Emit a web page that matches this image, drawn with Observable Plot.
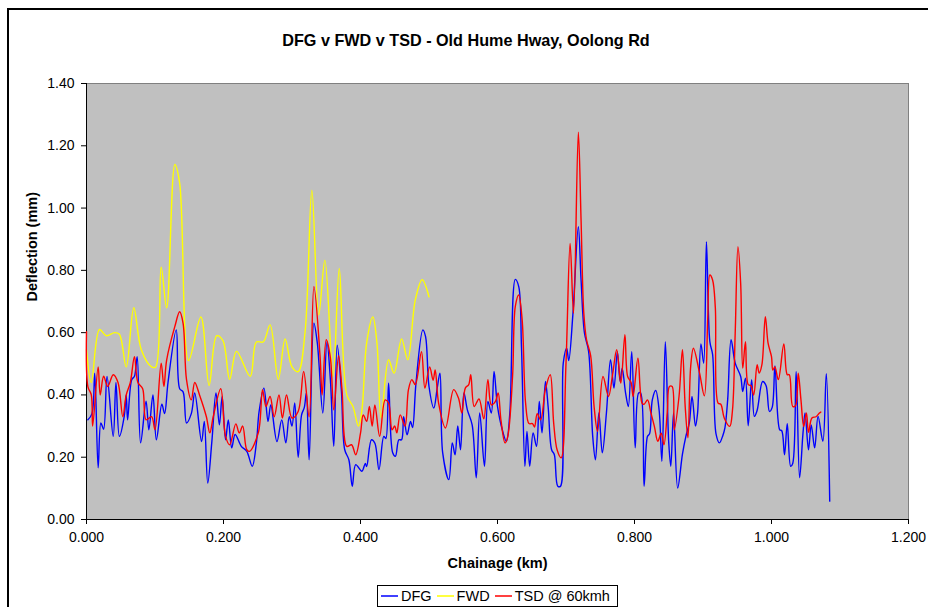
<!DOCTYPE html>
<html>
<head>
<meta charset="utf-8">
<script src="https://cdn.jsdelivr.net/npm/d3@7"></script>
<script src="https://cdn.jsdelivr.net/npm/@observablehq/plot@0.6"></script>
<style>
  html, body { margin: 0; padding: 0; background: #fff; overflow: hidden; }
  #wrap { position: relative; width: 928px; height: 607px; font-family: "Liberation Sans", Arial, sans-serif; }
  #border { position: absolute; left: 7px; top: 8px; width: 940px; height: 620px; border-top: 2px solid #000; border-left: 2px solid #000; pointer-events: none; }
  #title { position: absolute; left: 8px; width: 916px; top: 30px; text-align: center; font-weight: bold; font-size: 16.2px; line-height: 20px; color: #000; white-space: nowrap; }
  #legend { position: absolute; left: 377px; top: 585px; width: 239px; height: 20px; border: 1px solid #000; background: #fff; display: flex; align-items: center; font-size: 14.5px; line-height: 20px; color: #000; box-sizing: content-box; white-space: nowrap; }
  #legend .item { display: flex; align-items: center; margin-left: 3px; margin-right: 2px; white-space: nowrap; }
  #legend svg { margin-right: 3px; flex: none; }
  svg.plot { position: absolute; left: 0; top: 0; }
</style>
</head>
<body>
<div id="wrap">
  <div id="border"></div>
  <div id="title">DFG v FWD v TSD - Old Hume Hway, Oolong Rd</div>
  <div id="legend"></div>
</div>
<script>
// ---- Data ----
const seriesNames = ["DFG", "FWD", "TSD @ 60kmh"];
const seriesColors = ["#0000ff", "#ffff00", "#ff0000"];
const yTicks = [0, 0.2, 0.4, 0.6, 0.8, 1.0, 1.2, 1.4];
const xTicks = [0, 0.2, 0.4, 0.6, 0.8, 1.0, 1.2];

const dfgKm = [0.002,0.008,0.012,0.017,0.021,0.025,0.030,0.039,0.043,0.048,0.055,0.058,0.060,0.066,0.070,0.074,0.079,0.087,0.091,0.097,0.102,0.110,0.114,0.119,0.131,0.136,0.141,0.146,0.153,0.158,0.168,0.172,0.177,0.183,0.189,0.194,0.198,0.203,0.207,0.212,0.217,0.226,0.234,0.242,0.248,0.252,0.259,0.265,0.269,0.278,0.285,0.291,0.296,0.300,0.304,0.309,0.314,0.318,0.321,0.325,0.332,0.337,0.345,0.351,0.356,0.361,0.366,0.372,0.377,0.383,0.388,0.393,0.402,0.407,0.409,0.416,0.421,0.427,0.434,0.437,0.441,0.447,0.451,0.456,0.460,0.463,0.468,0.473,0.476,0.481,0.491,0.495,0.500,0.507,0.512,0.516,0.520,0.529,0.534,0.538,0.542,0.546,0.551,0.556,0.563,0.569,0.574,0.581,0.586,0.591,0.595,0.600,0.607,0.613,0.618,0.626,0.631,0.635,0.640,0.643,0.647,0.652,0.657,0.661,0.665,0.670,0.674,0.679,0.683,0.688,0.692,0.696,0.701,0.704,0.710,0.718,0.722,0.727,0.733,0.739,0.743,0.748,0.753,0.759,0.765,0.770,0.775,0.779,0.782,0.787,0.791,0.796,0.801,0.806,0.809,0.814,0.819,0.822,0.826,0.831,0.836,0.840,0.845,0.850,0.853,0.857,0.863,0.870,0.875,0.880,0.884,0.889,0.892,0.897,0.901,0.905,0.910,0.914,0.919,0.924,0.929,0.932,0.936,0.941,0.947,0.955,0.958,0.962,0.966,0.971,0.975,0.979,0.987,0.992,0.997,1.001,1.005,1.012,1.015,1.019,1.023,1.028,1.031,1.036,1.041,1.046,1.049,1.054,1.058,1.063,1.068,1.075,1.080,1.085];
const dfgVal = [0.32,0.34,0.47,0.166,0.31,0.29,0.459,0.267,0.44,0.267,0.33,0.40,0.32,0.449,0.46,0.523,0.246,0.38,0.288,0.40,0.256,0.37,0.34,0.44,0.609,0.42,0.41,0.31,0.34,0.406,0.25,0.315,0.117,0.25,0.406,0.304,0.395,0.256,0.32,0.23,0.273,0.235,0.219,0.171,0.246,0.347,0.422,0.315,0.368,0.25,0.32,0.246,0.33,0.30,0.374,0.20,0.336,0.36,0.406,0.192,0.63,0.566,0.342,0.571,0.45,0.235,0.56,0.417,0.224,0.192,0.107,0.176,0.155,0.18,0.17,0.256,0.245,0.16,0.267,0.26,0.438,0.214,0.203,0.256,0.256,0.33,0.272,0.315,0.295,0.438,0.609,0.587,0.427,0.358,0.422,0.47,0.214,0.128,0.246,0.208,0.30,0.224,0.406,0.352,0.304,0.134,0.342,0.171,0.379,0.342,0.475,0.363,0.288,0.251,0.342,0.771,0.748,0.555,0.171,0.283,0.171,0.278,0.235,0.379,0.278,0.443,0.36,0.224,0.208,0.107,0.107,0.502,0.55,0.51,0.657,0.94,0.769,0.598,0.54,0.267,0.192,0.342,0.214,0.342,0.513,0.422,0.539,0.443,0.486,0.406,0.363,0.539,0.23,0.406,0.406,0.107,0.267,0.275,0.384,0.414,0.35,0.187,0.571,0.246,0.171,0.342,0.101,0.21,0.267,0.31,0.395,0.30,0.34,0.564,0.502,0.892,0.571,0.53,0.275,0.246,0.27,0.294,0.384,0.577,0.502,0.459,0.411,0.454,0.301,0.449,0.331,0.35,0.443,0.43,0.347,0.36,0.493,0.288,0.285,0.208,0.308,0.171,0.18,0.475,0.134,0.278,0.342,0.224,0.304,0.23,0.331,0.251,0.468,0.059];

const fwdKm = [0.000,0.007,0.019,0.029,0.041,0.048,0.058,0.069,0.080,0.095,0.101,0.109,0.117,0.129,0.136,0.149,0.167,0.179,0.190,0.199,0.209,0.219,0.239,0.248,0.258,0.268,0.280,0.290,0.300,0.309,0.319,0.329,0.339,0.348,0.360,0.369,0.380,0.389,0.397,0.402,0.409,0.418,0.424,0.430,0.441,0.449,0.460,0.469,0.480,0.490,0.500];
const fwdVal = [0.545,0.44,0.61,0.59,0.60,0.595,0.49,0.68,0.545,0.49,0.49,0.81,0.68,1.14,1.08,0.51,0.65,0.43,0.59,0.575,0.45,0.54,0.46,0.57,0.57,0.625,0.45,0.58,0.49,0.475,0.60,1.057,0.657,0.833,0.46,0.806,0.40,0.363,0.30,0.35,0.567,0.65,0.567,0.326,0.513,0.47,0.58,0.513,0.705,0.77,0.715];

const tsdKm = [0.000,0.002,0.007,0.009,0.017,0.020,0.025,0.031,0.039,0.046,0.053,0.058,0.064,0.070,0.075,0.082,0.087,0.095,0.100,0.109,0.113,0.117,0.129,0.136,0.141,0.146,0.153,0.158,0.165,0.175,0.180,0.185,0.196,0.203,0.209,0.218,0.223,0.228,0.234,0.238,0.251,0.257,0.262,0.268,0.274,0.281,0.286,0.292,0.300,0.309,0.317,0.325,0.332,0.341,0.344,0.350,0.356,0.361,0.368,0.373,0.380,0.387,0.393,0.400,0.404,0.409,0.413,0.417,0.421,0.428,0.436,0.441,0.446,0.450,0.453,0.458,0.465,0.470,0.475,0.480,0.489,0.494,0.501,0.506,0.509,0.514,0.524,0.536,0.543,0.548,0.553,0.558,0.561,0.566,0.573,0.580,0.586,0.591,0.597,0.601,0.605,0.611,0.615,0.622,0.626,0.631,0.636,0.641,0.646,0.651,0.654,0.658,0.663,0.670,0.677,0.682,0.687,0.693,0.700,0.706,0.711,0.718,0.722,0.726,0.730,0.736,0.741,0.746,0.754,0.762,0.768,0.774,0.780,0.786,0.790,0.795,0.798,0.805,0.811,0.814,0.819,0.824,0.829,0.834,0.839,0.843,0.848,0.851,0.855,0.858,0.865,0.870,0.874,0.878,0.882,0.886,0.895,0.902,0.907,0.910,0.914,0.918,0.922,0.926,0.931,0.939,0.943,0.947,0.951,0.955,0.958,0.962,0.966,0.970,0.974,0.979,0.982,0.986,0.991,0.995,1.000,1.002,1.005,1.010,1.018,1.023,1.026,1.031,1.035,1.039,1.043,1.047,1.051,1.054,1.059,1.065,1.070,1.072];
const tsdVal = [0.603,0.427,0.40,0.30,0.49,0.40,0.46,0.427,0.465,0.44,0.33,0.40,0.44,0.523,0.44,0.42,0.32,0.33,0.288,0.502,0.427,0.512,0.62,0.667,0.63,0.449,0.384,0.44,0.40,0.33,0.278,0.33,0.42,0.267,0.24,0.307,0.278,0.30,0.224,0.219,0.28,0.417,0.363,0.395,0.33,0.40,0.326,0.40,0.326,0.347,0.475,0.33,0.748,0.523,0.40,0.577,0.52,0.352,0.526,0.417,0.235,0.24,0.208,0.277,0.336,0.315,0.363,0.30,0.368,0.267,0.384,0.374,0.288,0.30,0.278,0.336,0.30,0.417,0.449,0.433,0.539,0.422,0.49,0.447,0.48,0.374,0.294,0.417,0.39,0.342,0.422,0.433,0.465,0.363,0.387,0.323,0.449,0.368,0.379,0.406,0.32,0.246,0.267,0.459,0.684,0.721,0.641,0.374,0.308,0.308,0.297,0.34,0.32,0.419,0.465,0.31,0.224,0.198,0.502,0.886,0.662,1.244,0.961,0.662,0.577,0.526,0.363,0.283,0.459,0.395,0.465,0.545,0.438,0.593,0.459,0.44,0.395,0.518,0.374,0.37,0.384,0.342,0.299,0.251,0.277,0.24,0.35,0.427,0.427,0.288,0.395,0.545,0.363,0.262,0.491,0.55,0.47,0.397,0.651,0.785,0.769,0.68,0.374,0.37,0.326,0.299,0.35,0.598,0.876,0.758,0.486,0.571,0.433,0.43,0.40,0.497,0.47,0.497,0.651,0.566,0.523,0.48,0.49,0.449,0.564,0.465,0.465,0.363,0.365,0.47,0.384,0.299,0.342,0.28,0.326,0.33,0.342,0.345];

// ---- Build tables ----
const dfg = dfgKm.map((k, i) => ({km: k, v: dfgVal[i]}));
const fwd = fwdKm.map((k, i) => ({km: k, v: fwdVal[i]}));
const tsd = tsdKm.map((k, i) => ({km: k, v: tsdVal[i]}));

const font = '"Liberation Sans", Arial, sans-serif';

const chart = Plot.plot({
  width: 928,
  height: 607,
  marginLeft: 86,
  marginRight: 20,
  marginTop: 83,
  marginBottom: 88,
  x: {domain: [0, 1.2]},
  y: {domain: [0, 1.4]},
  style: {background: "transparent", fontFamily: font, fontSize: "14px", color: "#000", overflow: "visible"},
  marks: [
    Plot.frame({fill: "#c0c0c0", stroke: "#808080", strokeWidth: 1}),
    Plot.axisY({ticks: yTicks, tickFormat: d3.format(".2f"), tickSize: 5, tickPadding: 7, label: null, stroke: "#000", fontSize: 14}),
    Plot.axisX({ticks: xTicks, tickFormat: d3.format(".3f"), tickSize: 5, tickPadding: 8, label: null, stroke: "#000", fontSize: 14}),
    Plot.ruleX([0], {stroke: "#000", strokeWidth: 1}),
    Plot.ruleY([0], {stroke: "#000", strokeWidth: 1}),
    Plot.line(dfg, {x: "km", y: "v", stroke: seriesColors[0], strokeWidth: 1.4, curve: "catmull-rom"}),
    Plot.line(fwd, {x: "km", y: "v", stroke: seriesColors[1], strokeWidth: 1.4, curve: "catmull-rom"}),
    Plot.line(tsd, {x: "km", y: "v", stroke: seriesColors[2], strokeWidth: 1.4, curve: "catmull-rom"}),
    Plot.text(["Deflection (mm)"], {frameAnchor: "left", dx: -54, rotate: -90, text: d => d, fontWeight: "bold", fontSize: 14.5, fill: "#000"}),
    Plot.text(["Chainage (km)"], {frameAnchor: "bottom", dy: 48, text: d => d, fontWeight: "bold", fontSize: 14.5, fill: "#000"})
  ]
});
document.getElementById("wrap").appendChild(chart);

// ---- Legend ----
const legend = document.getElementById("legend");
seriesNames.forEach((name, i) => {
  const item = document.createElement("span");
  item.className = "item";
  item.innerHTML = `<svg width="17" height="4"><line x1="0" y1="2" x2="17" y2="2" stroke="${seriesColors[i]}" stroke-width="1.5"/></svg><span>${name}</span>`;
  legend.appendChild(item);
});
</script>
</body>
</html>
